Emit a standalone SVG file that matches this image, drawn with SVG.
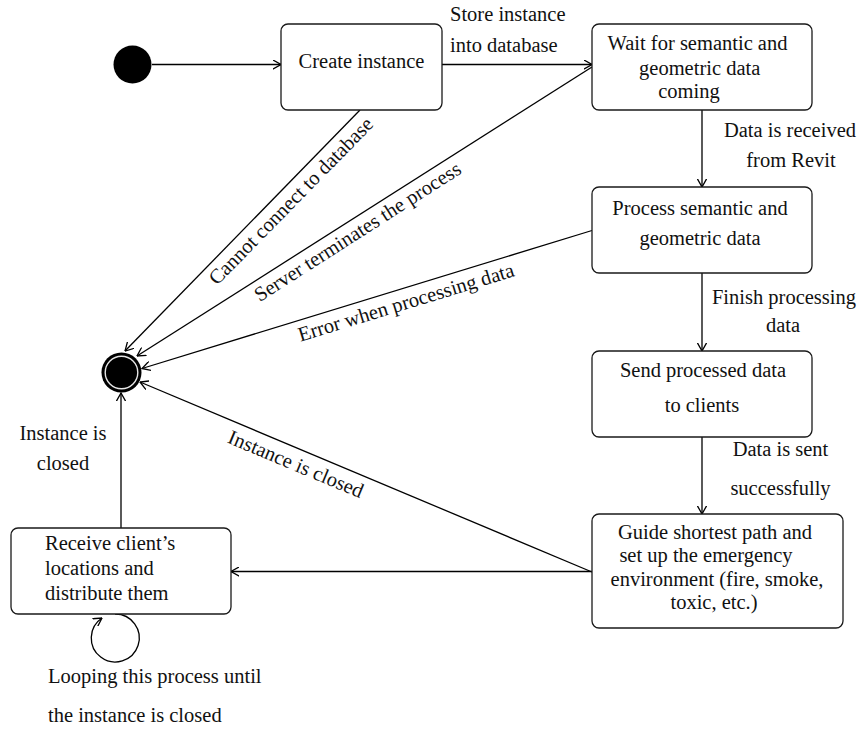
<svg xmlns="http://www.w3.org/2000/svg" width="864" height="729" viewBox="0 0 864 729">
  <style>
    .box { fill: #fff; stroke: #1a1a1a; stroke-width: 1.3; }
    .edge { fill: none; stroke: #000; stroke-width: 1.3; }
    text { font-family: "Liberation Serif", "Times New Roman", serif; font-size: 20.5px; fill: #111; }
    .c { text-anchor: middle; }
  </style>
  <defs>
    <marker id="arr" viewBox="0 0 9 10" refX="8.4" refY="5" markerWidth="9" markerHeight="10" markerUnits="userSpaceOnUse" orient="auto">
      <path d="M0,0.3 L8.4,5 L0,9.7" fill="none" stroke="#000" stroke-width="1.3"/>
    </marker>
  </defs>
  <rect width="864" height="729" fill="#fff"/>

  <!-- connectors -->
  <g id="connectors">
    <line class="edge" x1="152" y1="64.5" x2="281" y2="64.5" marker-end="url(#arr)"/>
    <line class="edge" x1="442" y1="64.5" x2="592" y2="64.5" marker-end="url(#arr)"/>
    <line class="edge" x1="702" y1="110" x2="702" y2="187" marker-end="url(#arr)"/>
    <line class="edge" x1="702" y1="273" x2="702" y2="351" marker-end="url(#arr)"/>
    <line class="edge" x1="702" y1="437" x2="702" y2="514" marker-end="url(#arr)"/>
    <line class="edge" x1="592" y1="571.5" x2="231" y2="571.5" marker-end="url(#arr)"/>
    <line class="edge" x1="121" y1="528" x2="121" y2="393" marker-end="url(#arr)"/>
    <line class="edge" x1="360" y1="110" x2="125" y2="351" marker-end="url(#arr)"/>
    <line class="edge" x1="592" y1="67" x2="137" y2="356" marker-end="url(#arr)"/>
    <line class="edge" x1="592" y1="230.5" x2="142" y2="368.5" marker-end="url(#arr)"/>
    <line class="edge" x1="592" y1="572" x2="140" y2="382" marker-end="url(#arr)"/>
    <path class="edge" d="M115,614 A24,24 0 1 1 102,618" marker-end="url(#arr)"/>

    <!-- transition labels -->
    <text x="450" y="21">Store instance</text>
    <text x="450" y="51.5">into database</text>
    <text class="c" x="790" y="136.5">Data is received</text>
    <text class="c" x="791" y="166.5">from Revit</text>
    <text class="c" x="784" y="304">Finish processing</text>
    <text class="c" x="783" y="331.5">data</text>
    <text class="c" x="780.5" y="456">Data is sent</text>
    <text class="c" x="780.5" y="495">successfully</text>
    <text class="c" x="63" y="440">Instance is</text>
    <text class="c" x="63" y="470">closed</text>
    <text x="48" y="683">Looping this process until</text>
    <text x="48" y="721.5">the instance is closed</text>
    <text class="c" transform="translate(295.7,205.7) rotate(-45.6)">Cannot connect to database</text>
    <text class="c" transform="translate(361.2,237.4) rotate(-32.6)">Server terminates the process</text>
    <text class="c" transform="translate(408,308.8) rotate(-17)">Error when processing data</text>
    <text class="c" transform="translate(293.2,470.3) rotate(22.8)">Instance is closed</text>
  </g>

  <!-- initial state -->
  <g id="start">
    <circle cx="132.5" cy="64.5" r="19" fill="#000"/>
  </g>

  <!-- final state -->
  <g id="end">
    <circle cx="121.5" cy="372.5" r="20" fill="#000"/>
    <circle cx="121.5" cy="372.5" r="16.3" fill="none" stroke="#e6e6e6" stroke-width="1.4"/>
  </g>

  <g id="create-instance">
    <rect class="box" x="281" y="24" width="161" height="86" rx="7"/>
    <text class="c" x="361.5" y="68">Create instance</text>
  </g>

  <g id="wait-data">
    <rect class="box" x="592" y="24" width="220" height="86" rx="7"/>
    <text class="c" x="697.5" y="50">Wait for semantic and</text>
    <text class="c" x="699.7" y="74.5">geometric data</text>
    <text class="c" x="689" y="98">coming</text>
  </g>

  <g id="process-data">
    <rect class="box" x="592" y="187" width="220" height="86" rx="7"/>
    <text class="c" x="700" y="215">Process semantic and</text>
    <text class="c" x="700" y="245">geometric data</text>
  </g>

  <g id="send-data">
    <rect class="box" x="592" y="351" width="220" height="86" rx="7"/>
    <text class="c" x="703" y="376.5">Send processed data</text>
    <text class="c" x="702" y="412">to clients</text>
  </g>

  <g id="guide-path">
    <rect class="box" x="592" y="514" width="251" height="114" rx="7"/>
    <text class="c" x="715" y="538.5">Guide shortest path and</text>
    <text class="c" x="706" y="562">set up the emergency</text>
    <text class="c" x="717" y="585.5">environment (fire, smoke,</text>
    <text class="c" x="714" y="609">toxic, etc.)</text>
  </g>

  <g id="receive-locations">
    <rect class="box" x="11" y="528" width="220" height="86" rx="7"/>
    <text x="45" y="550">Receive client’s</text>
    <text x="45" y="575">locations and</text>
    <text x="45" y="600">distribute them</text>
  </g>
</svg>
